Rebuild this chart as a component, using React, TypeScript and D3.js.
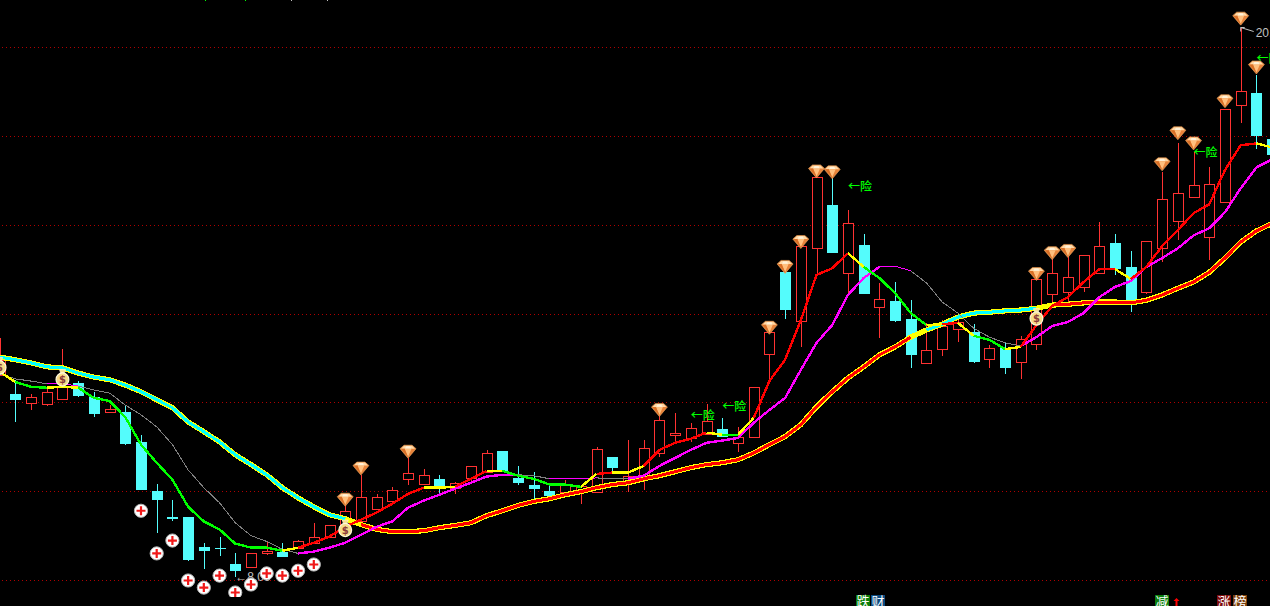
import * as d3 from 'd3'

const width = 1270
const height = 606

// candles, index 0 is cut off by the left edge
const opens = [12.63, 12.20, 12.00, 11.98, 12.09, 12.45, 12.13, 11.80, 11.80, 11.12, 10.02, 9.44, 9.42, 8.76, 8.74, 8.38, 8.31, 8.61, 8.65, 8.74, 8.85, 8.99, 9.26, 9.33, 9.62, 9.78, 10.29, 10.18, 10.29, 10.09, 10.31, 10.45, 10.92, 10.31, 10.16, 10.02, 10.00, 10.02, 10.00, 10.79, 10.22, 10.31, 10.87, 11.28, 11.21, 11.30, 11.42, 11.10, 11.24, 13.10, 14.94, 13.84, 15.48, 16.45, 14.92, 15.55, 14.16, 14.29, 13.89, 12.90, 13.21, 13.66, 13.60, 12.99, 13.24, 12.92, 13.33, 14.45, 14.49, 14.61, 14.92, 15.60, 15.06, 14.49, 15.48, 16.09, 16.63, 15.73, 16.52, 18.70, 18.97, 17.95]
const closes = [12.97, 12.07, 12.13, 12.25, 12.36, 12.16, 11.75, 11.86, 11.08, 10.04, 9.82, 9.39, 8.47, 8.67, 8.73, 8.22, 8.63, 8.67, 8.54, 8.88, 8.99, 9.24, 9.57, 9.89, 9.89, 10.04, 10.43, 10.38, 10.11, 10.20, 10.58, 10.87, 10.47, 10.20, 10.07, 9.91, 10.16, 10.13, 10.97, 10.54, 10.36, 10.99, 11.62, 11.33, 11.44, 11.60, 11.24, 11.24, 12.36, 13.60, 14.09, 15.53, 17.08, 15.37, 16.04, 14.45, 14.34, 13.84, 13.08, 13.19, 13.73, 13.82, 12.92, 13.24, 12.79, 13.44, 14.79, 14.92, 14.83, 15.33, 15.53, 15.01, 14.27, 15.64, 16.58, 16.72, 16.90, 16.92, 18.61, 19.01, 18.00, 17.59]
const highs = [13.46, 12.52, 12.20, 12.31, 13.21, 12.49, 12.25, 11.95, 11.95, 11.28, 10.18, 9.82, 9.42, 8.85, 8.99, 8.61, 8.63, 8.90, 8.85, 8.92, 9.30, 9.24, 9.73, 10.38, 9.95, 10.11, 10.76, 10.52, 10.38, 10.22, 10.58, 10.94, 10.92, 10.58, 10.45, 10.20, 10.27, 10.13, 11.01, 10.79, 11.17, 11.17, 11.73, 11.77, 11.55, 11.98, 11.66, 11.46, 12.36, 13.60, 14.94, 15.53, 17.08, 17.08, 16.34, 15.80, 14.70, 14.72, 14.31, 13.80, 13.86, 13.93, 13.78, 13.30, 13.35, 13.51, 14.79, 15.26, 15.44, 15.33, 16.07, 15.80, 15.42, 15.64, 17.19, 17.86, 17.64, 17.32, 18.61, 20.45, 19.37, 17.95]
const lows = [12.63, 11.57, 11.84, 11.93, 12.09, 12.13, 11.68, 11.77, 11.06, 10.04, 9.06, 9.35, 8.45, 8.27, 8.56, 8.09, 8.31, 8.58, 8.54, 8.74, 8.85, 8.99, 9.12, 9.33, 9.62, 9.78, 10.16, 10.18, 9.93, 9.95, 10.18, 10.45, 10.47, 10.16, 9.82, 9.89, 9.98, 9.73, 10.00, 10.47, 10.00, 10.04, 10.79, 11.12, 11.12, 11.30, 11.24, 10.90, 11.24, 12.52, 13.89, 13.26, 14.88, 15.37, 14.43, 14.45, 13.46, 13.82, 12.79, 12.90, 13.06, 13.37, 12.90, 12.79, 12.65, 12.54, 13.19, 14.20, 14.22, 14.49, 14.92, 14.88, 14.04, 14.45, 15.17, 15.66, 16.63, 15.21, 16.52, 18.31, 17.71, 17.59]

// indicator lines
const shortLine = [12.70, 12.47, 12.36, 12.34, 12.36, 12.34, 12.11, 12.04, 11.68, 11.06, 10.65, 10.27, 9.66, 9.33, 9.15, 8.83, 8.74, 8.74, 8.67, 8.74, 8.85, 8.99, 9.21, 9.37, 9.53, 9.73, 9.95, 10.09, 10.09, 10.11, 10.29, 10.47, 10.47, 10.36, 10.29, 10.16, 10.16, 10.11, 10.40, 10.43, 10.43, 10.58, 10.94, 11.10, 11.19, 11.33, 11.28, 11.28, 11.66, 12.49, 12.97, 13.86, 14.88, 15.03, 15.37, 15.06, 14.81, 14.47, 14.02, 13.75, 13.77, 13.80, 13.51, 13.42, 13.21, 13.26, 13.75, 14.18, 14.38, 14.72, 15.01, 15.01, 14.79, 15.06, 15.53, 15.89, 16.27, 16.47, 17.24, 17.80, 17.84, 17.75]
const midLine = [12.65, 12.54, 12.49, 12.43, 12.43, 12.38, 12.29, 12.22, 11.95, 11.73, 11.46, 11.06, 10.49, 10.09, 9.75, 9.30, 9.01, 8.88, 8.70, 8.61, 8.65, 8.74, 8.85, 9.03, 9.21, 9.33, 9.64, 9.80, 9.93, 10.07, 10.20, 10.34, 10.38, 10.38, 10.36, 10.29, 10.29, 10.29, 10.31, 10.29, 10.29, 10.36, 10.58, 10.76, 10.94, 11.10, 11.15, 11.21, 11.55, 11.84, 12.11, 12.74, 13.35, 13.75, 14.43, 14.81, 15.06, 15.08, 14.97, 14.70, 14.27, 14.02, 13.68, 13.48, 13.35, 13.28, 13.48, 13.73, 13.82, 14.02, 14.38, 14.61, 14.74, 15.06, 15.26, 15.48, 15.77, 15.93, 16.29, 16.83, 17.30, 17.48]
const longLine = [13.03, 12.97, 12.90, 12.81, 12.79, 12.67, 12.58, 12.52, 12.40, 12.25, 12.07, 11.89, 11.57, 11.35, 11.12, 10.83, 10.61, 10.38, 10.09, 9.86, 9.66, 9.48, 9.39, 9.26, 9.15, 9.10, 9.10, 9.12, 9.19, 9.24, 9.30, 9.46, 9.57, 9.69, 9.78, 9.84, 9.93, 10.00, 10.09, 10.16, 10.20, 10.29, 10.36, 10.45, 10.54, 10.61, 10.65, 10.72, 10.87, 11.06, 11.24, 11.51, 11.91, 12.25, 12.56, 12.81, 13.08, 13.26, 13.48, 13.64, 13.77, 13.93, 14.02, 14.04, 14.07, 14.09, 14.13, 14.20, 14.22, 14.25, 14.27, 14.27, 14.25, 14.31, 14.43, 14.58, 14.72, 14.94, 15.26, 15.62, 15.87, 16.04]

// trend state of each line, [first candle, state] until the next entry
const shortTrend: [number, string][] = [[0, 'flat'], [1, 'down'], [3, 'flat'], [5, 'down'], [18, 'flat'], [19, 'up'], [27, 'flat'], [29, 'up'], [31, 'flat'], [32, 'down'], [37, 'flat'], [38, 'up'], [39, 'flat'], [41, 'up'], [45, 'flat'], [46, 'down'], [47, 'flat'], [48, 'up'], [54, 'flat'], [55, 'down'], [59, 'flat'], [60, 'up'], [61, 'flat'], [62, 'down'], [64, 'flat'], [65, 'up'], [71, 'flat'], [72, 'up'], [80, 'flat']]
const midTrend: [number, string][] = [[0, 'down'], [3, 'flat'], [5, 'down'], [19, 'up'], [33, 'down'], [35, 'flat'], [38, 'down'], [40, 'up'], [56, 'flat'], [58, 'down'], [65, 'up']]
const longTrend: [number, string][] = [[0, 'down'], [22, 'flat'], [23, 'up'], [58, 'flat'], [59, 'down'], [66, 'flat'], [67, 'up']]

// signal markers, candle index and price
const diamondIdx = [22, 23, 26, 42, 49, 50, 51, 52, 53, 66, 67, 68, 74, 75, 76, 78, 79, 80]
const diamondPrices = [9.82, 10.52, 10.90, 11.84, 13.69, 15.06, 15.62, 17.21, 17.19, 14.90, 15.37, 15.42, 17.37, 18.07, 17.84, 18.79, 20.65, 19.55]
const bagIdx = [0, 4, 22, 66]
const bagPrices = [12.83, 12.56, 9.17, 13.93]
const plusIdx = [9, 10, 11, 12, 13, 14, 15, 16, 17, 18, 19, 20]
const plusPrices = [9.57, 8.61, 8.90, 8.00, 7.84, 8.11, 7.73, 7.91, 8.16, 8.11, 8.22, 8.36]
const riskIdx = [44, 46, 54, 76, 80]
const riskPrices = [11.71, 11.91, 16.85, 17.62, 19.75]

const gridPrices = [20, 18, 16, 14, 12, 10, 8]
const lowIdx = 15
const highIdx = 79

// the bottom strip, cut by the window edge
const bottomCells = [
  { text: '跌', bg: '#0b7d0b', x: 856 },
  { text: '财', bg: '#0b4a80', x: 871 },
  { text: '减', bg: '#0b7d0b', x: 1155 },
  { text: '涨', bg: '#7d0b0b', x: 1217 },
  { text: '榜', bg: '#7a3d0b', x: 1233 },
]

const RED = '#ff3232'
const CYAN = '#54fcfc'
const GREEN = '#00ff00'
const YELLOW = '#ffff00'
const CJK = '"Noto Sans CJK SC", sans-serif'

const x = d3.scaleLinear().domain([0, 80]).range([-0.4, 1256.4])
const y = d3.scaleLinear().domain([8, 20]).range([580.5, 47.5])
const px = (v: number) => Math.round(v) + 0.5

// split a line into stretches of one state, each shares its end point with the next
function runs(values: number[], trend: [number, string][]) {
  return trend.map(([start, state], k) => {
    const end = k + 1 < trend.length ? trend[k + 1][0] : values.length - 1
    return { state, idx: d3.range(start, end + 1) }
  })
}

function path(values: number[]) {
  return d3.line<number>().x(i => x(i)).y(i => y(values[i]))
}

function Diamond({ cx, cy }: { cx: number; cy: number }) {
  return (
    <g transform={`translate(${cx},${cy})`}>
      <path d="M-8,-3 L-4,-6.5 L4,-6.5 L8,-3 L0,6.5 Z" fill="#e8833a" stroke="#f0a860" strokeWidth={0.6} />
      <path d="M-7,-3 L-4,-6 L4,-6 L7,-3 Z" fill="#ffd9a6" />
      <path d="M-3.5,-3 L3.5,-3 L0,5 Z" fill="#ffc07e" />
      <path d="M-2,-5.5 L2,-5.5 L3,-3.2 L-3,-3.2 Z" fill="#fff1d8" />
      <path d="M-7,-3 L-3.5,-3 L0,5.5 Z" fill="#d96f26" />
    </g>
  )
}

function Bag({ cx, cy }: { cx: number; cy: number }) {
  return (
    <g transform={`translate(${cx},${cy})`}>
      <path d="M-3,-8.5 L3,-8.5 L1.8,-5 L-1.8,-5 Z" fill="#f6e090" stroke="#fff6d0" strokeWidth={0.7} />
      <ellipse cx={0} cy={1.5} rx={6.4} ry={6.6} fill="#f6dc88" stroke="#fff8dc" strokeWidth={1.2} />
      <text x={0} y={5.2} textAnchor="middle" fontSize={10} fontWeight="bold" fontFamily="DejaVu Sans" fill="#8c3a3a">$</text>
    </g>
  )
}

function Plus({ cx, cy }: { cx: number; cy: number }) {
  return (
    <g transform={`translate(${cx},${cy})`}>
      <circle r={6.6} fill="#ffffff" stroke="#b4b4b4" strokeWidth={1} />
      <path d="M-4.5,0 H4.5 M0,-4.5 V4.5" stroke="#f01818" strokeWidth={2.2} fill="none" />
    </g>
  )
}

export default function App() {
  const shortColor: Record<string, string> = { up: '#ff0000', flat: YELLOW, down: GREEN }
  const midStyle: Record<string, { color: string; w: number }> = {
    up: { color: '#ff00ff', w: 2.4 },
    flat: { color: '#ff00ff', w: 1 },
    down: { color: '#808080', w: 1 },
  }
  const longColor: Record<string, string> = { up: '#ff0000', flat: YELLOW, down: '#00ffff' }

  const shortPath = path(shortLine)
  const midPath = path(midLine)
  const longPath = path(longLine)

  return (
    <svg
      width={width}
      height={height}
      style={{ position: 'fixed', left: 0, top: 0, display: 'block', background: '#000' }}
    >
      <defs>
        <clipPath id="plot">
          <rect x={0} y={0} width={width} height={597} />
        </clipPath>
      </defs>

      {[205, 245, 291, 327].map((tx, i) => (
        <rect key={tx} x={tx} y={0} width={1} height={1} fill={i < 2 ? GREEN : '#c0c0c0'} />
      ))}

      {gridPrices.map(p => (
        <line
          key={p}
          x1={2}
          x2={width}
          y1={Math.floor(y(p)) + 0.5}
          y2={Math.floor(y(p)) + 0.5}
          stroke="#b00000"
          strokeDasharray="1 3"
          shapeRendering="crispEdges"
        />
      ))}

      <g shapeRendering="crispEdges">
        {opens.map((open, i) => {
          const close = closes[i]
          const up = close >= open
          const color = up ? RED : CYAN
          const cx = px(x(i))
          const top = Math.round(y(Math.max(open, close)))
          const bottom = Math.round(y(Math.min(open, close)))
          return (
            <g key={i}>
              <line x1={cx} x2={cx} y1={y(highs[i])} y2={y(lows[i])} stroke={color} />
              {up ? (
                <rect x={cx - 5} y={top + 0.5} width={10} height={Math.max(bottom - top, 1)} fill="#000" stroke={color} />
              ) : (
                <rect x={cx - 5.5} y={top} width={11} height={Math.max(bottom - top, 1)} fill={color} />
              )}
            </g>
          )
        })}
      </g>

      <g fill="none" strokeLinejoin="round" shapeRendering="crispEdges">
        {runs(longLine, longTrend).map(r => (
          <path key={`ly${r.idx[0]}`} d={longPath(r.idx) ?? ''} stroke={YELLOW} strokeWidth={5.2} />
        ))}
        {runs(longLine, longTrend).map(r => (
          <path key={`lc${r.idx[0]}`} d={longPath(r.idx) ?? ''} stroke={longColor[r.state]} strokeWidth={3} />
        ))}
        {runs(midLine, midTrend).map(r => (
          <path key={`m${r.idx[0]}`} d={midPath(r.idx) ?? ''} stroke={midStyle[r.state].color} strokeWidth={midStyle[r.state].w} />
        ))}
        {runs(shortLine, shortTrend).map(r => (
          <path key={`s${r.idx[0]}`} d={shortPath(r.idx) ?? ''} stroke={shortColor[r.state]} strokeWidth={2.4} />
        ))}
      </g>

      <text x={x(lowIdx)} y={y(lows[lowIdx]) + 4} fontSize={12} fontFamily="Liberation Sans" fill="#c0c0c0">
        ←{lows[lowIdx].toFixed(2)}
      </text>
      <path
        d={`M${x(highIdx)},${y(highs[highIdx])} l13,4 M${x(highIdx)},${y(highs[highIdx])} l4,0 M${x(highIdx)},${y(highs[highIdx])} l0,4`}
        stroke="#c0c0c0"
        fill="none"
      />
      <text x={x(highIdx) + 15} y={y(highs[highIdx]) + 9} fontSize={12} fontFamily="Liberation Sans" fill="#c0c0c0">
        {highs[highIdx].toFixed(2)}
      </text>

      <g clipPath="url(#plot)">
        {plusIdx.map((idx, i) => (
          <Plus key={idx} cx={x(idx)} cy={y(plusPrices[i])} />
        ))}
      </g>
      {bagIdx.map((idx, i) => (
        <Bag key={idx} cx={x(idx)} cy={y(bagPrices[i])} />
      ))}
      {diamondIdx.map((idx, i) => (
        <Diamond key={idx} cx={x(idx)} cy={y(diamondPrices[i])} />
      ))}
      {riskIdx.map((idx, i) => (
        <text key={idx} x={x(idx)} y={y(riskPrices[i]) + 4} fontSize={12} fontWeight={500} fontFamily={CJK} fill="#00ff00">
          ←险
        </text>
      ))}

      {bottomCells.map(c => (
        <g key={c.text}>
          <rect x={c.x} y={595} width={14} height={11} fill={c.bg} />
          <text x={c.x + 7} y={606} textAnchor="middle" fontSize={13} fontFamily={CJK} fill="#fff">
            {c.text}
          </text>
        </g>
      ))}
      <path d="M1176.5,598 L1173.5,601 H1175.5 V606 H1177.5 V601 H1179.5 Z" fill="#ff0000" />
    </svg>
  )
}
